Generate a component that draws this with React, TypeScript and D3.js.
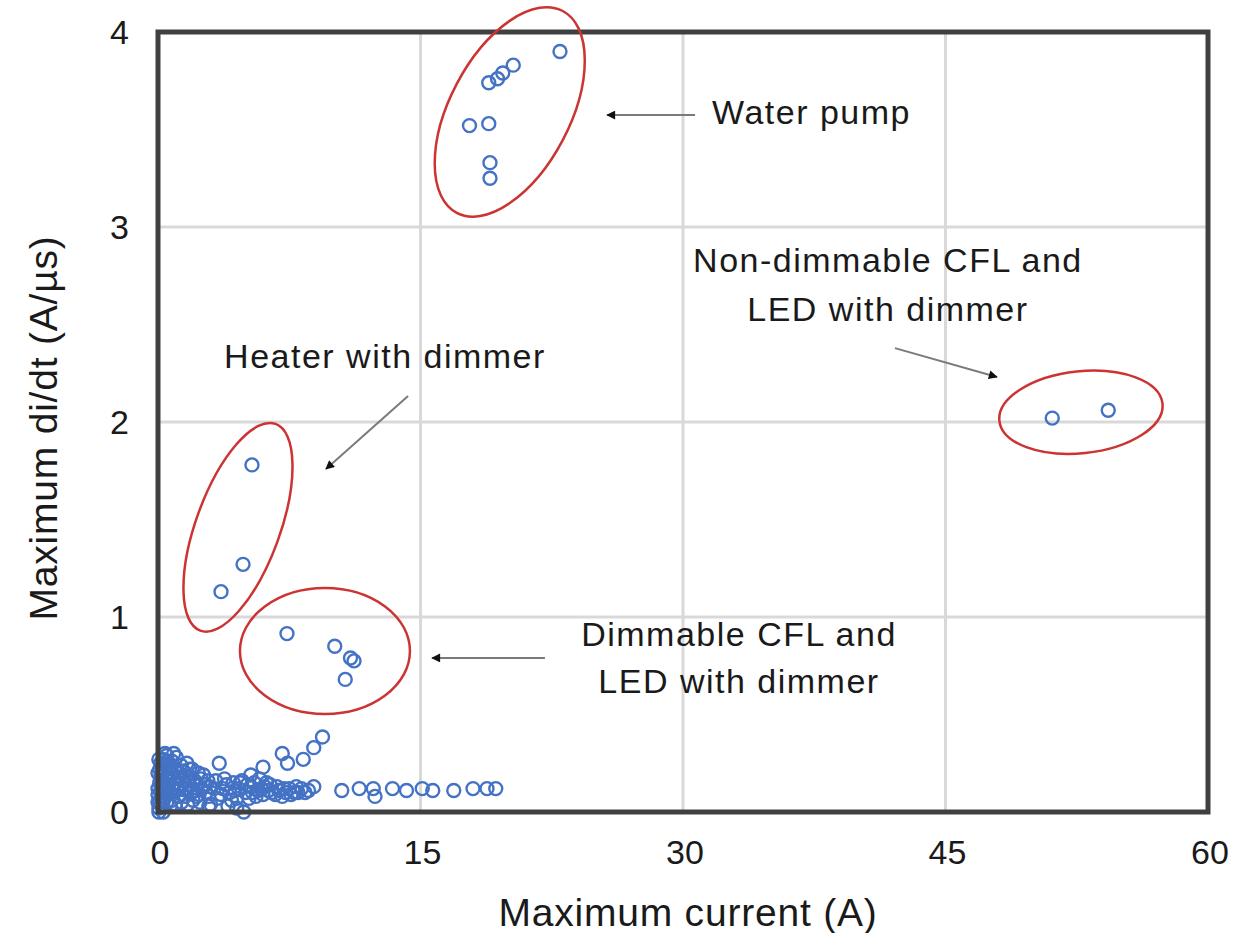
import React from "react";
import * as d3 from "d3";

// ---- data ----
const xTicks = [0, 15, 30, 45, 60];
const yTicks = [0, 1, 2, 3, 4];
const xTickLabels = ["0", "15", "30", "45", "60"];
const yTickLabels = ["0", "1", "2", "3", "4"];

const waterPump: [number, number][] = [
  [22.97, 3.9], [20.3, 3.83], [19.7, 3.79], [19.4, 3.76], [18.9, 3.74],
  [17.8, 3.52], [18.9, 3.53], [18.97, 3.33], [18.97, 3.25],
];
const heaterDimmer: [number, number][] = [
  [5.37, 1.78], [4.86, 1.27], [3.6, 1.13],
];
const dimmableCFL: [number, number][] = [
  [7.37, 0.915], [10.1, 0.85], [11.0, 0.79], [11.2, 0.775], [10.7, 0.68],
];
const nonDimmableCFL: [number, number][] = [
  [51.1, 2.02], [54.3, 2.06],
];
const clusterNearZero: [number, number][] = [
  [0.05, 0.02], [0.1, 0.05], [0.15, 0.1], [0.1, 0.15], [0.2, 0.2], [0.15, 0.25],
  [0.3, 0.27], [0.4, 0.12], [0.5, 0.18], [0.5, 0.05], [0.6, 0.22], [0.7, 0.1],
  [0.8, 0.26], [0.9, 0.3], [1.0, 0.15], [1.1, 0.2], [1.2, 0.08], [1.3, 0.24],
  [1.5, 0.12], [1.6, 0.18], [1.8, 0.22], [1.9, 0.1], [2.1, 0.16], [2.3, 0.2],
  [2.5, 0.12], [2.7, 0.14], [2.9, 0.08], [0.3, 0.0], [0.2, 0.08], [0.6, 0.14],
  [1.4, 0.16], [2.0, 0.06], [0.0, 0.12], [0.0, 0.2], [0.05, 0.27], [0.4, 0.3],
  [0.25, 0.16], [0.8, 0.06], [1.7, 0.04], [2.4, 0.05],
  [0.0, 0.05], [0.0, 0.09], [0.1, 0.22], [0.2, 0.13], [0.3, 0.06], [0.35, 0.22],
  [0.45, 0.08], [0.55, 0.26], [0.65, 0.17], [0.7, 0.03], [0.75, 0.2], [0.85, 0.12],
  [0.95, 0.22], [1.0, 0.04], [1.05, 0.28], [1.15, 0.12], [1.25, 0.18], [1.35, 0.05],
  [1.45, 0.21], [1.55, 0.08], [1.65, 0.25], [1.75, 0.14], [1.85, 0.18], [1.95, 0.22],
  [2.05, 0.11], [2.2, 0.14], [2.35, 0.09], [2.45, 0.17], [2.6, 0.19], [2.75, 0.1],
  [2.85, 0.16], [2.95, 0.13], [0.15, 0.18], [0.35, 0.1], [0.55, 0.1], [0.9, 0.17],
  [1.2, 0.14], [1.6, 0.12], [2.2, 0.08], [0.05, 0.0], [0.5, 0.29], [0.7, 0.24],
];
const bandToNine: [number, number][] = [
  [3.2, 0.12], [3.5, 0.25], [3.6, 0.09], [3.9, 0.14], [4.2, 0.06], [4.4, 0.11],
  [4.7, 0.15], [4.9, 0.0], [5.0, 0.1], [5.3, 0.13], [5.6, 0.08], [5.9, 0.12],
  [6.2, 0.15], [6.5, 0.1], [6.8, 0.13], [7.1, 0.08], [7.5, 0.12], [7.8, 0.1],
  [8.2, 0.12], [8.6, 0.11], [4.8, 0.16], [5.8, 0.17], [3.0, 0.04], [4.0, 0.03],
  [3.3, 0.16], [3.4, 0.07], [3.7, 0.12], [3.8, 0.17], [4.1, 0.1], [4.3, 0.15],
  [4.5, 0.07], [4.6, 0.12], [5.1, 0.14], [5.2, 0.07], [5.4, 0.1], [5.5, 0.15],
  [5.7, 0.11], [6.0, 0.09], [6.1, 0.13], [6.3, 0.11], [6.4, 0.14], [6.7, 0.09],
  [6.9, 0.11], [7.2, 0.12], [7.3, 0.1], [7.6, 0.09], [7.9, 0.13], [8.0, 0.1],
  [8.4, 0.1], [2.9, 0.03], [4.5, 0.02],
];
const risingChain: [number, number][] = [
  [5.3, 0.19], [6.0, 0.23], [7.1, 0.3], [7.4, 0.25], [8.3, 0.27], [8.9, 0.33], [9.4, 0.385],
];
const flatRow: [number, number][] = [
  [8.9, 0.13], [10.5, 0.11], [11.5, 0.12], [12.3, 0.12], [12.4, 0.08], [13.4, 0.12],
  [14.2, 0.11], [15.1, 0.12], [15.7, 0.11], [16.9, 0.11], [18.0, 0.12], [18.8, 0.12], [19.3, 0.12],
];

// ---- annotations ----
const ellipseCenters: [number, number][] = [[20.1, 3.59], [4.57, 1.46], [9.54, 0.826], [52.74, 2.05]];
const ellipseShapes = [
  { rx: 60, ry: 114, rot: 27.7 },
  { rx: 42, ry: 110, rot: 20 },
  { rx: 85, ry: 63, rot: 0 },
  { rx: 82, ry: 41, rot: -6 },
];
const arrows: [number, number, number, number][] = [
  [30.69, 3.574, 25.66, 3.574],
  [42.11, 2.379, 47.94, 2.231],
  [14.29, 2.133, 9.6, 1.759],
  [22.11, 0.79, 15.66, 0.79],
];
const labels: { text: string; x: number; y: number; anchor: string }[] = [
  { text: "Water pump", x: 31.66, y: 3.528, anchor: "start" },
  { text: "Non-dimmable CFL and", x: 41.71, y: 2.769, anchor: "middle" },
  { text: "LED with dimmer", x: 41.71, y: 2.518, anchor: "middle" },
  { text: "Heater with dimmer", x: 12.97, y: 2.277, anchor: "middle" },
  { text: "Dimmable CFL and", x: 33.2, y: 0.851, anchor: "middle" },
  { text: "LED with dimmer", x: 33.2, y: 0.61, anchor: "middle" },
];

const W = 1245, H = 933;
const L = 158, R = 1208, T = 32, B = 812;

export default function App() {
  const x = d3.scaleLinear().domain([0, 60]).range([L, R]);
  const y = d3.scaleLinear().domain([0, 4]).range([B, T]);
  const font = "'Liberation Sans', Arial, sans-serif";
  const all = [...clusterNearZero, ...bandToNine, ...risingChain, ...flatRow,
    ...waterPump, ...heaterDimmer, ...dimmableCFL, ...nonDimmableCFL];
  return (
    <svg width={W} height={H} style={{ position: "absolute", left: 0, top: 0, background: "#fff" }}
      fontFamily={font}>
      <defs>
        <marker id="ah" viewBox="0 0 10 10" refX="9" refY="5" markerWidth="5" markerHeight="4.5"
          orient="auto" markerUnits="strokeWidth">
          <path d="M0,0 L10,5 L0,10 z" fill="#111" />
        </marker>
      </defs>
      <rect x={0} y={0} width={W} height={H} fill="#fff" />
      {/* grid */}
      {xTicks.slice(1, -1).map((t) => (
        <line key={"gx" + t} x1={x(t)} x2={x(t)} y1={T} y2={B} stroke="#d9d9d9" strokeWidth={3} />
      ))}
      {yTicks.slice(1, -1).map((t) => (
        <line key={"gy" + t} x1={L} x2={R} y1={y(t)} y2={y(t)} stroke="#d9d9d9" strokeWidth={3} />
      ))}
      {/* points */}
      {all.map((d, i) => (
        <circle key={i} cx={x(d[0])} cy={y(d[1])} r={6.5} fill="none" stroke="#4472c4" strokeWidth={2.4} />
      ))}
      {/* border */}
      <rect x={L} y={T} width={R - L} height={B - T} fill="none" stroke="#404040" strokeWidth={5} />
      {/* ellipses */}
      {ellipseCenters.map((c, i) => {
        const s = ellipseShapes[i];
        return (
          <ellipse key={"e" + i} cx={0} cy={0} rx={s.rx} ry={s.ry}
            transform={`translate(${x(c[0])},${y(c[1])}) rotate(${s.rot})`}
            fill="none" stroke="#cc3333" strokeWidth={2.5} />
        );
      })}
      {/* arrows */}
      {arrows.map((a, i) => (
        <line key={"a" + i} x1={x(a[0])} y1={y(a[1])} x2={x(a[2])} y2={y(a[3])}
          stroke="#7a7a7a" strokeWidth={2} markerEnd="url(#ah)" />
      ))}
      {/* annotation text */}
      {labels.map((l, i) => (
        <text key={"l" + i} x={x(l.x)} y={y(l.y)} textAnchor={l.anchor} fontSize={34}
          letterSpacing={1.5} fill="#1a1a1a">{l.text}</text>
      ))}
      {/* tick labels */}
      {xTicks.map((t, i) => (
        <text key={"xt" + t} x={x(t) + 2} y={864} textAnchor="middle" fontSize={34} fill="#1a1a1a">
          {xTickLabels[i]}
        </text>
      ))}
      {yTicks.map((t, i) => (
        <text key={"yt" + t} x={129} y={y(t)} dy="0.36em" textAnchor="end" fontSize={34} fill="#1a1a1a">
          {yTickLabels[i]}
        </text>
      ))}
      {/* axis titles */}
      <text x={(L + R) / 2 + 5} y={926} textAnchor="middle" fontSize={39} letterSpacing={0.8} fill="#1a1a1a">
        Maximum current (A)
      </text>
      <text transform={`translate(57,428) rotate(-90)`} textAnchor="middle" fontSize={39}
        letterSpacing={0.8} fill="#1a1a1a">
        Maximum  di/dt (A/µs)
      </text>
    </svg>
  );
}
